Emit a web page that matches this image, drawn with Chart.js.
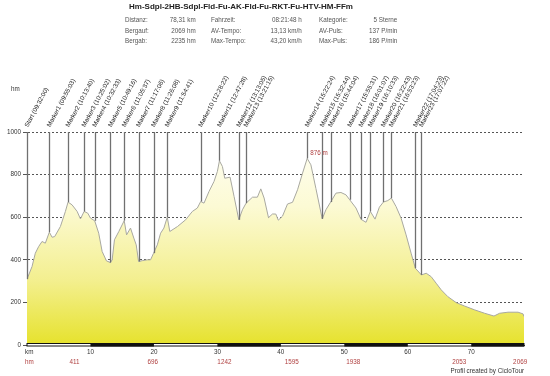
<!DOCTYPE html>
<html>
<head>
<meta charset="utf-8">
<script src="https://cdn.jsdelivr.net/npm/chart.js@4/dist/chart.umd.min.js"></script>
<style>
  html,body{margin:0;padding:0;background:#fff;}
  #wrap{position:relative;width:550px;height:376px;overflow:hidden;font-family:"Liberation Sans",Arial,sans-serif;}
  canvas{position:absolute;left:0;top:0;}
  .t{position:absolute;white-space:nowrap;}
  #title{left:0;width:482px;top:2px;text-align:center;font-weight:bold;font-size:8px;line-height:10px;color:#222;}
  .s{font-size:6.3px;line-height:8px;color:#555;}
  .r{text-align:right;}
  #foot{right:26px;top:367px;font-size:6.3px;line-height:8px;color:#333;}
</style>
</head>
<body>
<div id="wrap">
  <canvas id="c" width="550" height="376"></canvas>
  <div id="title" class="t">Hm-Sdpl-2HB-Sdpl-Fld-Fu-AK-Fld-Fu-RKT-Fu-HTV-HM-FFm</div>
  <div id="stats"></div>
  <div id="foot" class="t">Profil created by CicloTour</div>
</div>
<script>
// ---- data ----
const kmPoints = [0,0.79,1.31,1.83,2.37,2.89,3.52,3.95,4.36,5.26,6.05,6.47,7.1,7.9,8.42,9.0,9.57,10.0,10.67,11.3,11.84,12.52,13.15,13.42,13.78,14.47,15.32,15.69,16.31,16.83,17.21,17.58,18.16,18.95,19.47,19.94,20.53,21.05,21.57,22.1,22.5,23.7,25.0,26.05,26.84,27.37,27.89,28.68,29.47,30.0,30.32,30.79,31.16,32.0,32.63,33.37,33.95,34.52,35.53,36.3,36.84,37.36,38.05,38.68,39.2,39.6,40.26,41.05,41.84,42.63,43.42,44.15,44.73,45.52,46.52,47.1,47.84,48.68,49.47,50.26,50.84,51.84,52.63,53.42,54.1,54.84,55.52,56.15,56.85,57.41,58.15,58.94,59.73,60.52,61.2,62.15,62.9,63.68,64.47,65.26,66.31,67.63,68.94,70.52,72.1,73.58,74.47,75.79,77.37,78.16,78.31];
const elevation = [309,368,431,462,486,478,530,506,509,556,627,671,658,627,592,627,619,596,583,525,439,395,387,400,494,533,584,517,549,502,470,392,396,400,400,431,470,525,549,600,533,556,588,627,643,674,666,721,768,815,865,838,783,788,697,588,635,666,694,694,733,690,598,615,615,586,605,662,670,729,807,876,846,735,592,635,671,713,716,705,682,643,590,576,627,591,647,671,678,690,650,596,517,431,360,329,337,321,290,259,227,199,183,165,149,136,149,154,154,146,133];

const markerNames = ["Start (09:32:00)","Marker1 (09:55:03)","Marker2 (10:13:40)","Marker3 (10:25:02)","Marker4 (10:32:33)","Marker5 (10:49:16)","Marker6 (11:05:37)","Marker7 (11:17:06)","Marker8 (11:26:08)","Marker9 (11:54:41)","Marker10 (12:28:22)","Marker11 (12:47:28)","Marker12 (13:13:05)","Marker13 (13:21:15)","Marker14 (15:22:24)","Marker15 (15:32:44)","Marker16 (15:44:04)","Marker17 (15:55:31)","Marker18 (16:01:07)","Marker19 (16:10:33)","Marker20 (16:22:43)","Marker21 (16:53:23)","Marker22 (17:04:23)","Marker23 (17:07:22)"];
const markerKm = [0,3.52,6.47,9.0,10.67,13.15,15.32,17.58,19.94,22.1,27.37,30.32,33.37,34.52,44.15,46.52,47.84,50.84,52.63,54.1,56.15,57.41,61.2,62.15];
const markerElev = [309,530,671,627,583,387,584,392,431,600,674,865,588,666,876,592,671,682,590,627,671,690,360,329];

const climbLabels = ["411","696","1242","1595","1938","2053","2069"];
const climbKm = [7.47,19.8,31.1,41.7,51.4,68.1,77.7];

const peakKm = 44.15, peakLabel = "876 m";

const yTicks = {min:0, max:1000, step:200};
const xTicks = {min:0, max:78.31, step:10};

const statRows = [
  ["Distanz:","78,31 km","Fahrzeit:","08:21:48 h","Kategorie:","5 Sterne"],
  ["Bergauf:","2069 hm","AV-Tempo:","13,13 km/h","AV-Puls:","137 P/min"],
  ["Bergab:","2235 hm","Max-Tempo:","43,20 km/h","Max-Puls:","186 P/min"]
];

// ---- stats (HTML text) ----
(function(){
  const st = document.getElementById('stats');
  const lefts = [125,null,211,null,319,null];
  const rights = [195.7,null,301.7,null,397.3,null];
  statRows.forEach((row,ri)=>{
    const top = 16 + ri*10.6;
    row.forEach((txt,ci)=>{
      const d = document.createElement('div');
      d.className = 't s';
      d.textContent = txt;
      d.style.top = top+'px';
      if (ci%2===0) d.style.left = lefts[ci]+'px';
      else { d.style.right = (550-rights[ci-1])+'px'; d.className='t s r'; }
      st.appendChild(d);
    });
  });
})();

const FONT = '"Liberation Sans", Arial, sans-serif';

const overlay = {
  id:'overlay',
  afterDraw(chart){
    const {ctx, scales:{x,y}} = chart;
    ctx.save();
    // bottom km bar
    const by = 343.5, bh = 2.5;
    ctx.fillStyle = '#fff';
    ctx.strokeStyle = '#111';
    ctx.lineWidth = 1;
    const x0 = x.getPixelForValue(0), xe = x.getPixelForValue(xTicks.max);
    ctx.fillRect(x0, by, xe-x0, bh);
    ctx.strokeRect(x0, by, xe-x0, bh);
    ctx.fillStyle = '#111';
    for (let k=10; k<xTicks.max; k+=20){
      const a = x.getPixelForValue(k), b = x.getPixelForValue(Math.min(k+10, xTicks.max));
      ctx.fillRect(a, by-0.5, b-a, bh+1);
    }
    // markers
    ctx.strokeStyle = '#707070';
    ctx.lineWidth = 1.3;
    const topY = y.getPixelForValue(1000);
    markerKm.forEach((k,i)=>{
      const px = Math.round(x.getPixelForValue(k))+0.5;
      ctx.beginPath();
      ctx.moveTo(px, topY);
      ctx.lineTo(px, y.getPixelForValue(markerElev[i]));
      ctx.stroke();
    });
    ctx.fillStyle = '#222';
    ctx.font = '6.3px '+FONT;
    ctx.textAlign = 'left';
    ctx.textBaseline = 'alphabetic';
    markerKm.forEach((k,i)=>{
      const px = x.getPixelForValue(k);
      ctx.save();
      ctx.translate(px+1, 127.5);
      ctx.rotate(-62*Math.PI/180);
      ctx.fillText(markerNames[i], 0, 0);
      ctx.restore();
    });
    // peak label
    ctx.fillStyle = '#b04040';
    ctx.textBaseline = 'middle';
    ctx.fillText(peakLabel, x.getPixelForValue(peakKm)+3, 153);
    // axis unit labels
    ctx.fillStyle = '#333';
    ctx.fillText('hm', 11, 89);
    ctx.fillText('km', 25, 352);
    // climb labels
    ctx.fillStyle = '#b04040';
    ctx.fillText('hm', 25, 362);
    ctx.textAlign = 'center';
    climbKm.forEach((k,i)=>{
      ctx.fillText(climbLabels[i], x.getPixelForValue(k), 362);
    });
    ctx.restore();
  }
};

const pts = kmPoints.map((k,i)=>({x:k, y:elevation[i]}));

new Chart(document.getElementById('c'), {
  type:'line',
  data:{datasets:[{
    data: pts,
    borderColor:'#a8a8a0',
    borderWidth:1,
    pointRadius:0,
    tension:0,
    fill:'origin',
    backgroundColor:(c)=>{
      const ca = c.chart.chartArea;
      if (!ca) return '#eee';
      const g = c.chart.ctx.createLinearGradient(0, ca.top, 0, ca.bottom);
      g.addColorStop(0, '#fffff8');
      g.addColorStop(0.35, '#fcfad4');
      g.addColorStop(0.7, '#f3ef8e');
      g.addColorStop(1, '#e6e22c');
      return g;
    }
  }]},
  options:{
    responsive:false,
    animation:false,
    devicePixelRatio:1,
    layout:{padding:{top:132, right:26, bottom:0, left:0}},
    plugins:{legend:{display:false}, tooltip:{enabled:false}, title:{display:false}},
    scales:{
      x:{
        type:'linear', min:xTicks.min, max:xTicks.max,
        ticks:{stepSize:xTicks.step, includeBounds:false, autoSkip:false, maxRotation:0,
               callback:(v)=> (v===0 ? '' : String(v)),
               font:{size:6.3, family:FONT}, color:'#333', padding:3},
        grid:{display:false, drawTicks:false},
        border:{display:true, color:'#333', width:1},
        afterFit:(s)=>{ s.height = 31; }
      },
      y:{
        min:yTicks.min, max:yTicks.max, z:1,
        ticks:{stepSize:yTicks.step, callback:(v)=>String(v), font:{size:6.3, family:FONT}, color:'#333', padding:2},
        grid:{color:'#555', lineWidth:1, tickLength:4, drawTicks:true},
        border:{display:true, color:'#666', width:1, dash:[2,2]},
        afterFit:(s)=>{ s.width = 27; }
      }
    }
  },
  plugins:[overlay]
});
</script>
</body>
</html>
